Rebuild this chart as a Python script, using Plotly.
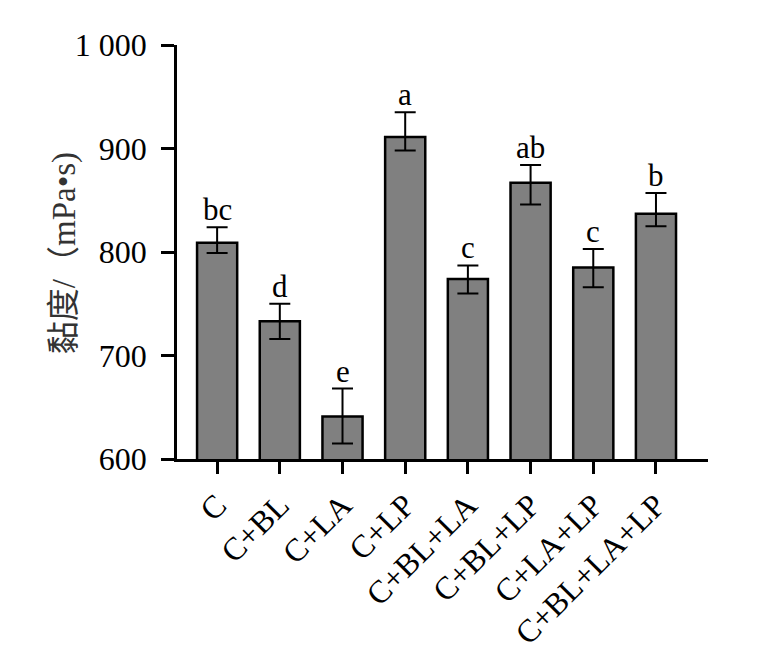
import plotly.graph_objects as go

categories = ["C", "C+BL", "C+LA", "C+LP", "C+BL+LA", "C+BL+LP", "C+LA+LP", "C+BL+LA+LP"]
viscosity = [809, 733, 641, 911, 774, 867, 785, 837]
err_plus = [15, 17, 27, 24, 13, 17, 18, 20]
err_minus = [10, 17, 26, 13, 14, 21, 19, 12]
letters = ["bc", "d", "e", "a", "c", "ab", "c", "b"]
y_ticks = [600, 700, 800, 900, 1000]
y_tick_text = ["600", "700", "800", "900", "1 000"]
y_title = "黏度/（mPa•s)"

serif = "Liberation Serif, Times New Roman, serif"

fig = go.Figure()
fig.add_trace(go.Bar(
    x=categories, y=viscosity,
    marker=dict(color="#808080", line=dict(color="black", width=2.5)),
    width=0.64,
    error_y=dict(type="data", symmetric=False, array=err_plus, arrayminus=err_minus,
                 color="black", thickness=2, width=10.5),
))

for c, v, e, t in zip(categories, viscosity, err_plus, letters):
    fig.add_annotation(x=c, y=v + e, text=t, showarrow=False, yanchor="bottom",
                       yshift=-2, font=dict(family=serif, size=31, color="black"))

fig.add_annotation(xref="paper", yref="paper", x=-0.213, y=0.497, text=y_title,
                   textangle=-90, showarrow=False, xanchor="center", yanchor="middle",
                   font=dict(family="Liberation Serif, Noto Sans CJK SC, serif", size=33,
                             color="#333333"))

fig.update_layout(
    width=779, height=668,
    paper_bgcolor="white", plot_bgcolor="white",
    margin=dict(l=169, r=79, t=37, b=217),
    showlegend=False,
)
fig.update_xaxes(
    type="category", range=[-0.64, 7.83],
    showline=True, linecolor="black", linewidth=2.5,
    ticks="outside", ticklen=12, tickwidth=2.5, tickcolor="black",
    tickangle=-45, tickfont=dict(family=serif, size=32, color="black"),
    showgrid=False, zeroline=False,
)
fig.update_yaxes(
    range=[600, 1000], tickvals=y_ticks, ticktext=y_tick_text,
    showline=True, linecolor="black", linewidth=2.5,
    ticks="outside", ticklen=13, tickwidth=2.5, tickcolor="black",
    tickfont=dict(family=serif, size=32, color="black"),
    ticklabelstandoff=8,
    showgrid=False, zeroline=False,
)

fig.write_html("out.html")
